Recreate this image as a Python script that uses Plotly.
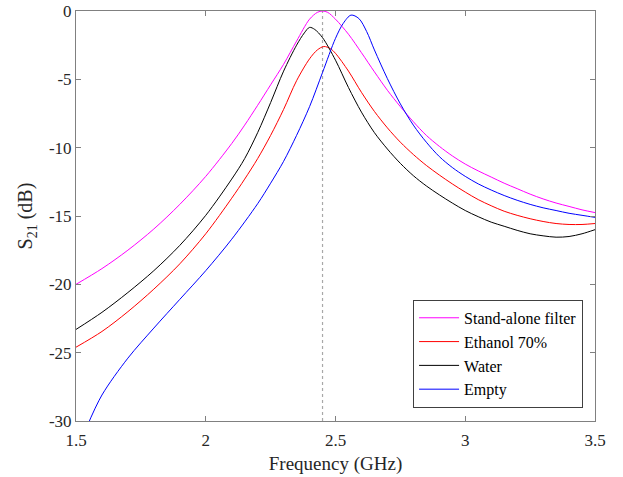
import plotly.graph_objects as go

# ---- Data (frequency in GHz, S21 in dB) ----
standalone_f = [1.5, 1.6, 1.7, 1.8, 1.9, 2.0, 2.1, 2.15, 2.2, 2.25, 2.3, 2.35, 2.4,
                2.43, 2.45, 2.47, 2.5, 2.55, 2.6, 2.65, 2.7, 2.75, 2.8, 2.85, 2.9,
                2.95, 3.0, 3.05, 3.1, 3.15, 3.2, 3.25, 3.3, 3.35, 3.4, 3.45, 3.5]
standalone = [-20.0, -18.85, -17.5, -15.95, -14.15, -12.1, -9.7, -8.35, -6.9, -5.4,
              -3.9, -2.2, -0.6, -0.1, 0.0, -0.1, -0.6, -1.7, -3.05, -4.45, -5.8,
              -7.0, -8.1, -9.1, -9.9, -10.6, -11.2, -11.7, -12.15, -12.6, -13.0,
              -13.4, -13.75, -14.05, -14.3, -14.55, -14.75]

ethanol_f = [1.5, 1.6, 1.7, 1.8, 1.9, 2.0, 2.1, 2.15, 2.2, 2.25, 2.3, 2.35, 2.4,
             2.43, 2.455, 2.48, 2.5, 2.55, 2.6, 2.65, 2.7, 2.75, 2.8, 2.85, 2.9,
             2.95, 3.0, 3.05, 3.1, 3.15, 3.2, 3.25, 3.3, 3.35, 3.4, 3.45, 3.5]
ethanol = [-24.6, -23.45, -22.0, -20.35, -18.5, -16.3, -13.7, -12.3, -10.8, -9.1,
           -7.2, -5.1, -3.5, -2.85, -2.6, -2.75, -3.1, -4.4, -5.95, -7.35, -8.55,
           -9.6, -10.5, -11.3, -12.0, -12.65, -13.25, -13.8, -14.25, -14.65, -14.95,
           -15.2, -15.4, -15.55, -15.62, -15.62, -15.55]

water_f = [1.5, 1.6, 1.7, 1.8, 1.9, 2.0, 2.1, 2.15, 2.2, 2.25, 2.3, 2.35, 2.38,
           2.4, 2.42, 2.45, 2.5, 2.55, 2.6, 2.65, 2.7, 2.75, 2.8, 2.85, 2.9, 2.95,
           3.0, 3.05, 3.1, 3.15, 3.2, 3.25, 3.3, 3.35, 3.4, 3.45, 3.5]
water = [-23.3, -22.05, -20.6, -19.0, -17.15, -14.95, -12.3, -10.8, -8.9, -6.7,
         -4.4, -2.5, -1.6, -1.2, -1.35, -1.95, -3.6, -5.6, -7.4, -8.9, -10.1,
         -11.15, -12.05, -12.8, -13.45, -14.05, -14.6, -15.05, -15.45, -15.75,
         -16.05, -16.3, -16.45, -16.55, -16.5, -16.3, -16.0]

empty_f = [1.54, 1.6, 1.7, 1.8, 1.9, 2.0, 2.1, 2.2, 2.25, 2.3, 2.35, 2.4, 2.45,
           2.5, 2.53, 2.56, 2.59, 2.62, 2.65, 2.7, 2.75, 2.8, 2.85, 2.9, 2.95,
           3.0, 3.05, 3.1, 3.15, 3.2, 3.25, 3.3, 3.35, 3.4, 3.45, 3.5]
empty = [-30.5, -28.1, -25.4, -23.2, -21.1, -19.0, -16.7, -14.1, -12.6, -11.0,
         -9.1, -7.0, -4.5, -2.0, -0.9, -0.3, -0.55, -1.5, -2.85, -4.95, -6.8,
         -8.35, -9.6, -10.65, -11.45, -12.1, -12.65, -13.1, -13.5, -13.85,
         -14.15, -14.4, -14.6, -14.8, -14.95, -15.1]

ref_freq = 2.45

x_ticks = [1.5, 2, 2.5, 3, 3.5]
x_ticklabels = ["1.5", "2", "2.5", "3", "3.5"]
y_ticks = [0, -5, -10, -15, -20, -25, -30]
y_ticklabels = ["0", "-5", "-10", "-15", "-20", "-25", "-30"]

FONT = "Liberation Serif, DejaVu Serif, serif"
AX_COLOR = "#808080"

fig = go.Figure()

series = [
    ("Stand-alone filter", standalone_f, standalone, "#ff00ff"),
    ("Ethanol 70%", ethanol_f, ethanol, "#ff0000"),
    ("Water", water_f, water, "#000000"),
    ("Empty", empty_f, empty, "#0000ff"),
]
for name, xs, ys, col in series:
    fig.add_trace(go.Scatter(
        x=xs, y=ys, name=name, mode="lines",
        line=dict(color=col, width=1, shape="spline", smoothing=0.9),
    ))

fig.add_vline(x=ref_freq, line=dict(color="#a8a8a8", width=1.2, dash="dot"), layer="below")

axis_common = dict(
    showgrid=False, zeroline=False, showline=True, linecolor=AX_COLOR, linewidth=1,
    mirror="ticks", ticks="inside", ticklen=5, tickcolor=AX_COLOR, tickwidth=1,
    tickfont=dict(family=FONT, size=17, color="#262626"), automargin=False,
)

fig.update_layout(
    width=623, height=477,
    margin=dict(l=76, r=28, t=11, b=56),
    paper_bgcolor="white", plot_bgcolor="white",
    font=dict(family=FONT, color="#262626"),
    xaxis=dict(range=[1.5, 3.5], tickvals=x_ticks, ticktext=x_ticklabels,
               ticklabelstandoff=4,
               title=dict(text="Frequency (GHz)", font=dict(family=FONT, size=19), standoff=7),
               **axis_common),
    yaxis=dict(range=[-30, 0], tickvals=y_ticks, ticktext=y_ticklabels,
               title=dict(text="S<sub>21</sub> (dB)", font=dict(family=FONT, size=20), standoff=10),
               **axis_common),
    legend=dict(x=0.977, y=0.032, xanchor="right", yanchor="bottom",
                bgcolor="white", bordercolor="#404040", borderwidth=1,
                font=dict(family=FONT, size=16, color="#000000"),
                tracegroupgap=0, itemwidth=40),
    showlegend=True,
)

# remove the default 8px page margin so the figure sits at the window's corner
fig.write_html("out.html",
               config={"displayModeBar": False},
               post_script="document.body.style.margin='0';document.body.style.overflow='hidden';")
